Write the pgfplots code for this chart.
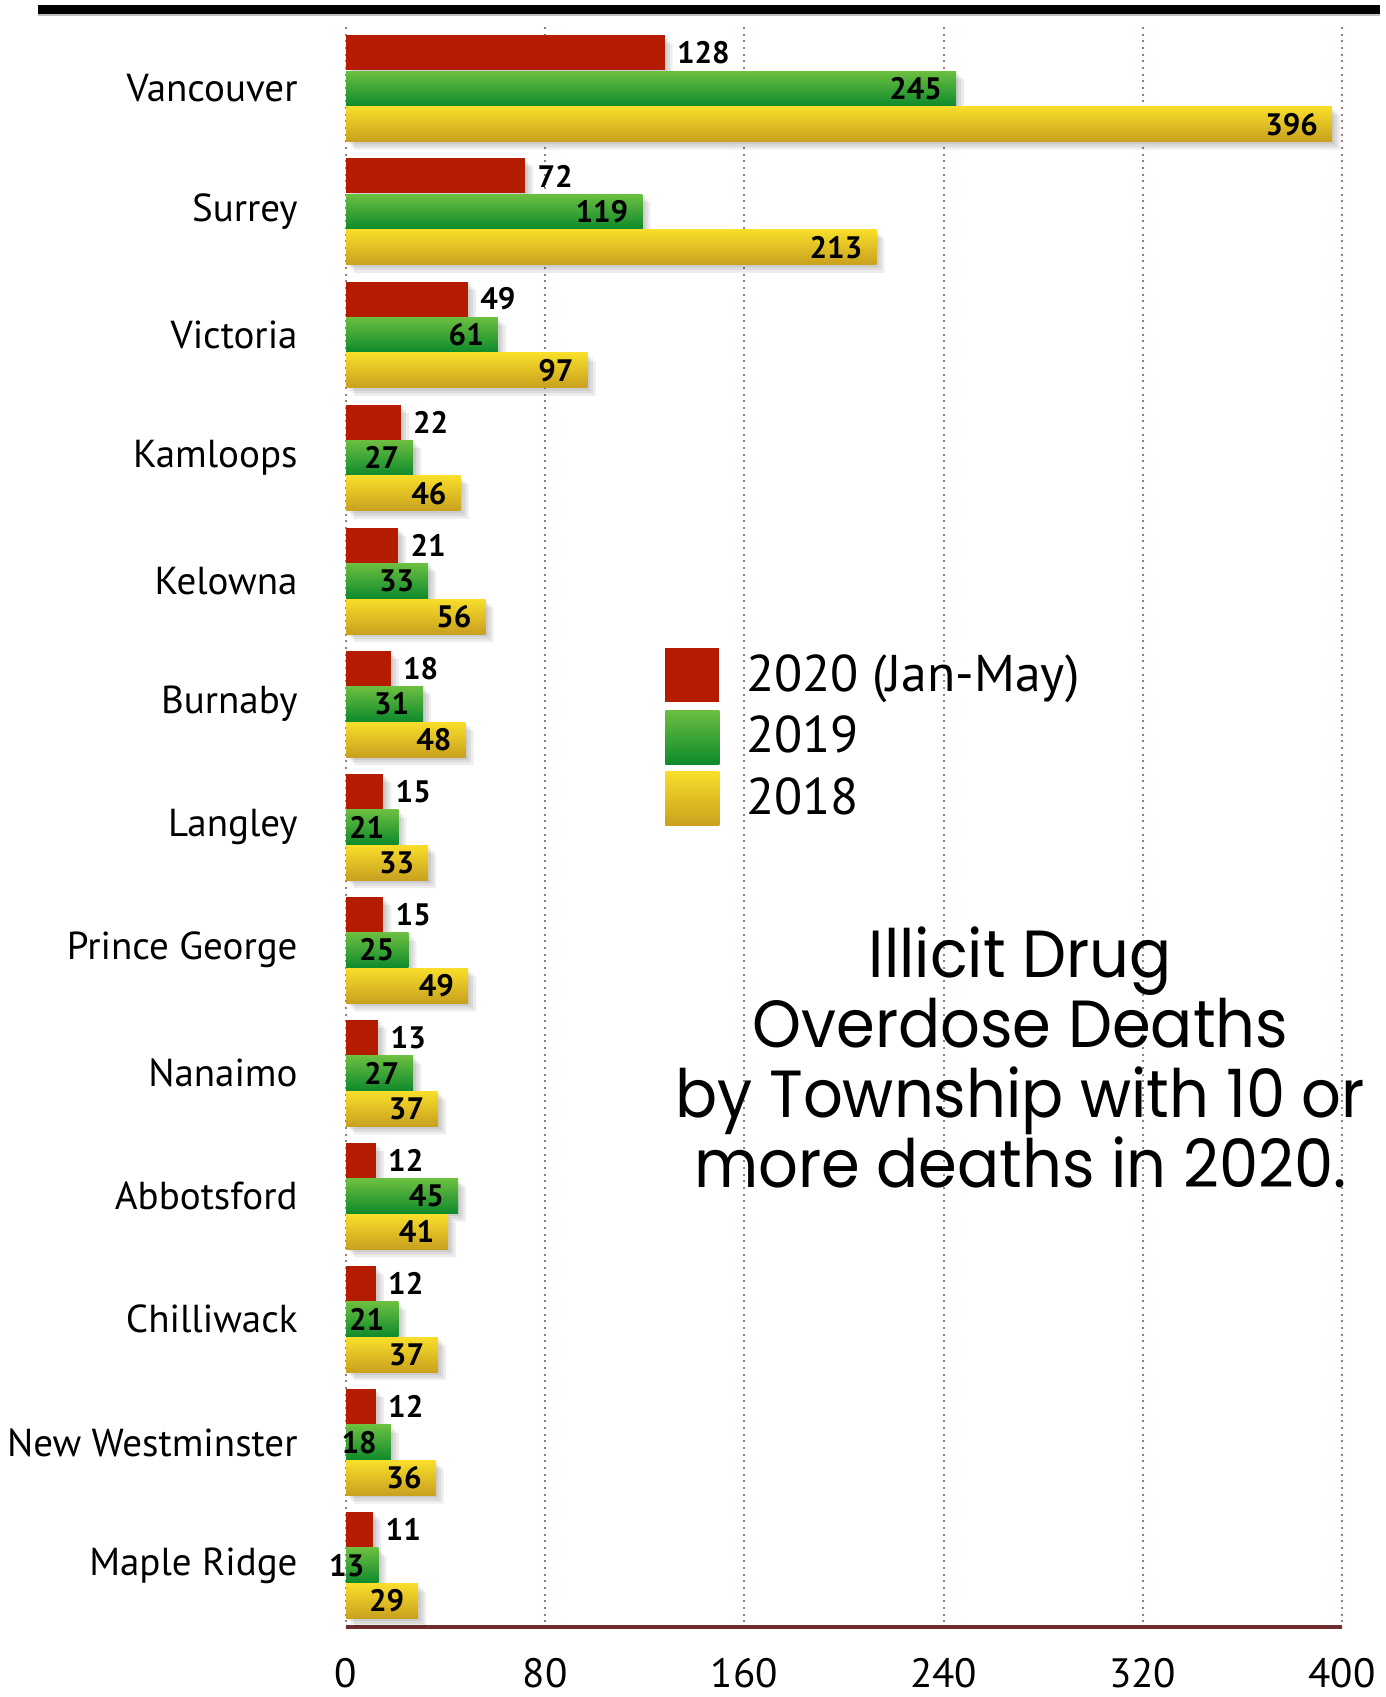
\documentclass[border=0pt]{standalone}
\usepackage{fontspec}
\setmainfont{PT Sans}
\newfontfamily\titlefont{Poppins}
\usepackage{pgfplots}
\usepackage{pgfplotstable}
\pgfplotsset{compat=1.18}

\definecolor{barred}{HTML}{B41C00}
\definecolor{greentop}{HTML}{6CBF40}
\definecolor{greenbot}{HTML}{0E8A2C}
\definecolor{yellowtop}{HTML}{F8DE2A}
\definecolor{yellowbot}{HTML}{C8A01F}
\definecolor{gridbrown}{HTML}{A07878}
\definecolor{axisbrown}{HTML}{6E2C2C}

% Illicit drug overdose deaths by township
\pgfplotstableread{
idx y2020 y2019 y2018
0  128 245 396
1  72  119 213
2  49  61  97
3  22  27  46
4  21  33  56
5  18  31  48
6  15  21  33
7  15  25  49
8  13  27  37
9  12  45  41
10 12  21  37
11 12  18  36
12 11  13  29
}\deaths

\pgfplotsset{
  % soft drop shadow, built from a few faint offset layers
  barshadow/.style={draw=none, fill=black, fill opacity=0.07, forget plot},
  vallabel/.style={nodes near coords, point meta=x,
    every node near coord/.append style={font=\bfseries\fontsize{9.3}{10}\selectfont, inner sep=1pt}},
  outlabel/.style={vallabel, every node near coord/.append style={anchor=west, xshift=2.5pt}},
  inlabel/.style={vallabel, every node near coord/.append style={anchor=east, xshift=-3pt}},
}

\begin{document}
\begin{tikzpicture}
\useasboundingbox (0,0) rectangle (415.5pt,509.1pt);
\draw[line width=2.7pt] (11.4pt,506.25pt) -- (414pt,506.25pt);
\draw[line width=0.5pt, black!25] (11.4pt,504.6pt) -- (414pt,504.6pt);
\begin{axis}[
  at={(103.8pt,21pt)}, anchor=south west,
  scale only axis, width=298.8pt, height=480pt,
  clip=false,
  xbar, bar width=10.5pt,
  xmin=0, xmax=400, ymin=-0.5, ymax=12.5, y dir=reverse,
  xtick={0,80,...,400}, ytick={0,...,12},
  yticklabels={Vancouver,Surrey,Victoria,Kamloops,Kelowna,Burnaby,Langley,Prince George,Nanaimo,Abbotsford,Chilliwack,New Westminster,Maple Ridge},
  axis x line*=bottom, axis y line*=left,
  x axis line style={draw=axisbrown, line width=1pt},
  y axis line style={draw=none},
  major tick length=0pt,
  xmajorgrids, grid style={draw=gridbrown, line width=0.6pt, dash pattern=on 0.6pt off 1.4pt},
  /pgf/number format/assume math mode=true,
  xticklabel style={font=\fontsize{12.3}{14}\selectfont, yshift=-5.8pt},
  yticklabel style={font=\fontsize{11.7}{14}\selectfont, xshift=-11pt},
  legend style={at={(rel axis cs:0.32,0.6125)}, anchor=north west, draw=none, fill=none,
    inner sep=0pt, font=\fontsize{15.5}{19}\selectfont, row sep=2pt,
    /tikz/every odd column/.append style={column sep=6pt}},
  legend cell align=left,
]
% shadows
\addplot[barshadow, xshift=0.8pt, bar shift=9.9pt] table[x=y2020, y=idx] {\deaths};
\addplot[barshadow, xshift=1.6pt, bar shift=9.1pt] table[x=y2020, y=idx] {\deaths};
\addplot[barshadow, xshift=2.4pt, bar shift=8.3pt] table[x=y2020, y=idx] {\deaths};
\addplot[barshadow, xshift=0.8pt, bar shift=-0.8pt] table[x=y2019, y=idx] {\deaths};
\addplot[barshadow, xshift=1.6pt, bar shift=-1.6pt] table[x=y2019, y=idx] {\deaths};
\addplot[barshadow, xshift=2.4pt, bar shift=-2.4pt] table[x=y2019, y=idx] {\deaths};
\addplot[barshadow, xshift=0.8pt, bar shift=-11.5pt] table[x=y2018, y=idx] {\deaths};
\addplot[barshadow, xshift=1.6pt, bar shift=-12.3pt] table[x=y2018, y=idx] {\deaths};
\addplot[barshadow, xshift=2.4pt, bar shift=-13.1pt] table[x=y2018, y=idx] {\deaths};
% bars, one plot per township so each bar carries its own gradient
\pgfplotsinvokeforeach{0,...,12}{
  \addplot[forget plot, draw=none, fill=barred, bar shift=10.7pt, outlabel,
    restrict y to domain=#1:#1]
    table[x=y2020, y=idx] {\deaths};
  \addplot[forget plot, draw=none, top color=greentop, bottom color=greenbot, bar shift=0pt, inlabel,
    restrict y to domain=#1:#1]
    table[x=y2019, y=idx] {\deaths};
  \addplot[forget plot, draw=none, top color=yellowtop, bottom color=yellowbot, bar shift=-10.7pt, inlabel,
    restrict y to domain=#1:#1]
    table[x=y2018, y=idx] {\deaths};
}
\addlegendimage{draw=none, legend image code/.code={\fill[barred, draw=none] (0pt,-8.1pt) rectangle (16.2pt,8.1pt);}}
\addlegendentry{2020 (Jan-May)}
\addlegendimage{draw=none, legend image code/.code={\shade[draw=none, top color=greentop, bottom color=greenbot] (0pt,-8.1pt) rectangle (16.2pt,8.1pt);}}
\addlegendentry{2019}
\addlegendimage{draw=none, legend image code/.code={\shade[draw=none, top color=yellowtop, bottom color=yellowbot] (0pt,-8.1pt) rectangle (16.2pt,8.1pt);}}
\addlegendentry{2018}
\node[font=\titlefont\fontsize{20}{21}\selectfont, align=center, xscale=0.935, transform shape]
  at (rel axis cs:0.677,0.356)
  {Illicit Drug\\Overdose Deaths\\by Township with 10 or\\more deaths in 2020.};
\end{axis}
\end{tikzpicture}
\end{document}
